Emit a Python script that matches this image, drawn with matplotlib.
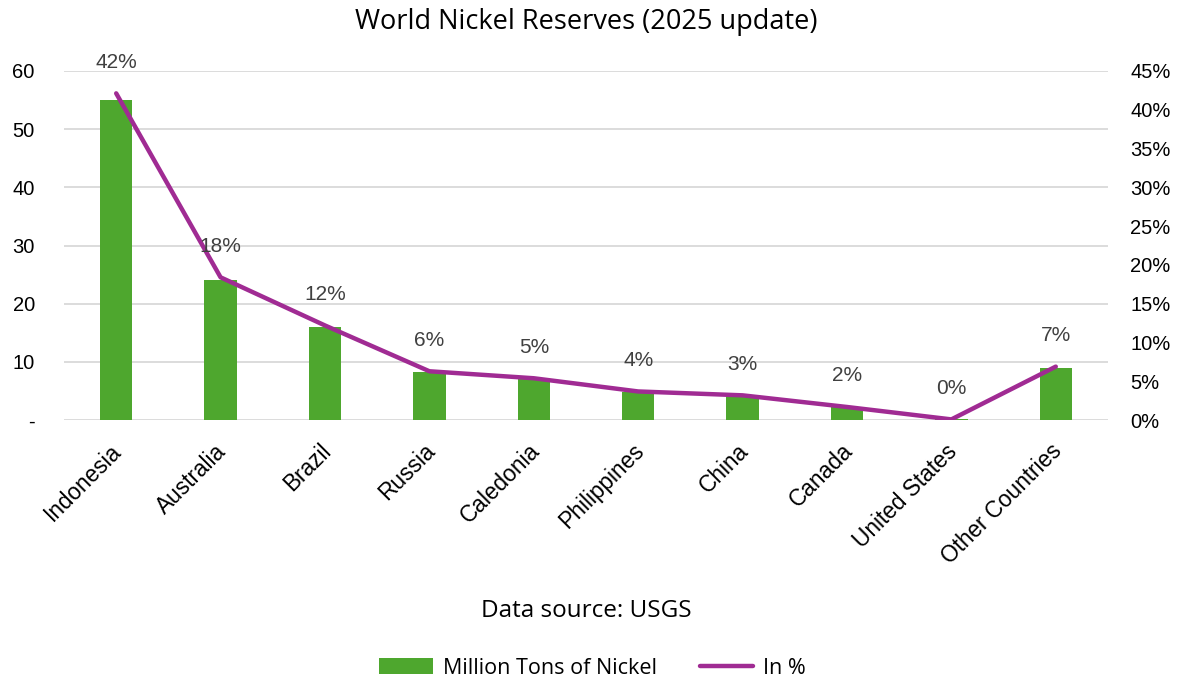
import numpy as np
import matplotlib.pyplot as plt
import matplotlib.transforms as mtransforms
from matplotlib.ticker import FuncFormatter

plt.rcParams['font.family'] = ['Open Sans', 'DejaVu Sans']
arial = ["Liberation Sans", "DejaVu Sans"]

countries = ["Indonesia", "Australia", "Brazil", "Russia", "Caledonia",
             "Philippines", "China", "Canada", "United States", "Other Countries"]
reserves_mt = [55, 24, 16, 8.3, 7.1, 4.8, 4.2, 2.2, 0.13, 9.0]
share_pct = [0.421, 0.184, 0.122, 0.063, 0.054, 0.037, 0.032, 0.017, 0.001, 0.069]

bar_color = "#4EA72E"
line_color = "#A02B93"

fig = plt.figure(figsize=(11.85, 6.81), dpi=100)
ax = fig.add_axes([0.054, 0.383, 0.881, 0.513])
ax2 = ax.twinx()

x = np.arange(len(countries))
ax.bar(x, reserves_mt, width=0.31, color=bar_color, label="Million Tons of Nickel", zorder=2)
ax2.plot(x, share_pct, color=line_color, lw=3.2, solid_capstyle="round",
         label="In %", zorder=3)

# percentage labels sit above each point of the line
for xi, p in zip(x, share_pct):
    ax2.annotate(f"{p:.0%}", (xi, p), xytext=(0, 22.5), textcoords="offset points",
                 ha="center", va="center", fontsize=15, color="#404040", family=arial)

ax.set_xlim(-0.5, len(countries) - 0.5)
ax.set_ylim(0, 60)
ax.set_yticks(range(0, 61, 10))
ax.yaxis.set_major_formatter(FuncFormatter(lambda v, _: "-" if v == 0 else f"{v:.0f}"))
ax2.set_ylim(0, 0.45)
ax2.set_yticks(np.arange(0, 0.451, 0.05))
ax2.yaxis.set_major_formatter(FuncFormatter(lambda v, _: f"{v:.0%}"))

ax.grid(axis="y", color="#D9D9D9", lw=1.3, zorder=0)
ax.set_axisbelow(True)
for a in (ax, ax2):
    for s in a.spines.values():
        s.set_visible(False)
    a.tick_params(length=0, labelsize=14.5, labelcolor="#000000")
    for lbl in a.get_yticklabels():
        lbl.set_family(arial)
ax.tick_params(axis="y", pad=21)
ax2.tick_params(axis="y", pad=16)

ax.set_xticks(x)
ax.set_xticklabels(countries, rotation=45, ha="right", va="top", rotation_mode="anchor",
                   fontsize=16.3, family=arial)
ax.tick_params(axis="x", pad=14)
# nudge the slanted country names a little to the left
shift = mtransforms.ScaledTranslation(-6 / 100, 0, fig.dpi_scale_trans)
for lbl in ax.get_xticklabels():
    lbl.set_transform(lbl.get_transform() + shift)

ax.set_xlabel("Data source: USGS", fontsize=17.5, labelpad=22)
ax.set_title("World Nickel Reserves (2025 update)", fontsize=19.5, pad=30)

h1, l1 = ax.get_legend_handles_labels()
h2, l2 = ax2.get_legend_handles_labels()
fig.legend(h1 + h2, l1 + l2, loc="center", bbox_to_anchor=(0.5, 1 - 668 / 681), ncol=2,
           frameon=False, fontsize=15.5, handlelength=2.5, handletextpad=0.45,
           columnspacing=2.0)

fig.savefig("out.png", dpi=100)
